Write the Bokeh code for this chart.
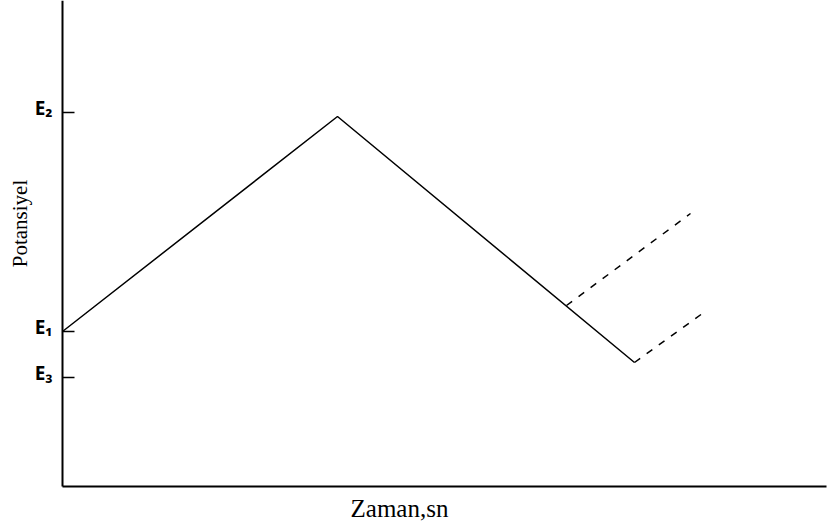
import math
from bokeh.plotting import figure
from bokeh.models import Range1d, FixedTicker, LinearAxis
from bokeh.core.properties import value
from bokeh.embed import file_html
from bokeh.resources import INLINE

# Triangular potential sweep (time vs potential, arbitrary units)
sweep_t = [0, 275, 572]
sweep_e = [155, 370, 124]

# Reversal branches drawn dashed
early_rev_t = [504, 628]
early_rev_e = [181, 273]
late_rev_t = [572, 644]
late_rev_e = [124, 176]

# Potential levels marked on the vertical axis
level_values = [374, 155, 109]
level_labels = ["E\u2082", "E\u2081", "E\u2083"]

# The frame fills the page; axes sit at the data origin
p = figure(width=830, height=524, output_backend="svg", toolbar_location=None,
           x_range=Range1d(-62, 768), y_range=Range1d(-38, 486),
           x_axis_type=None, y_axis_type=None, min_border=0)
p.outline_line_color = None
p.background_fill_color = "white"
p.border_fill_color = "white"

p.line(sweep_t, sweep_e, line_color="black", line_width=1.5)
p.line(early_rev_t, early_rev_e, line_color="black", line_width=1.5, line_dash="7 8")
p.line(late_rev_t, late_rev_e, line_color="black", line_width=1.5, line_dash="7 8")

# Axis lines through the origin, without automatic ticks or labels
for axis, loc, bounds in ((LinearAxis(), "left", (0, 486)),
                          (LinearAxis(), "below", (0, 764))):
    axis.fixed_location = 0
    axis.bounds = bounds
    axis.ticker = FixedTicker(ticks=[])
    axis.minor_tick_line_color = None
    axis.major_tick_line_color = None
    axis.axis_line_width = 2
    axis.axis_line_color = "black"
    p.add_layout(axis, loc)

# Short inward ticks at the marked potential levels
p.segment(x0=[0] * len(level_values), y0=level_values,
          x1=[12] * len(level_values), y1=level_values,
          line_color="black", line_width=1.5)

# Level names, set slightly above their ticks
p.text(x=[-10] * len(level_values), y=[v + 5 for v in level_values],
       text=level_labels, text_font=value("Noto Sans"), text_font_style="bold",
       text_font_size="19px", text_align="right", text_baseline="middle",
       text_color="black")

# Axis titles
p.text(x=[-43], y=[263], text=["Potansiyel"], angle=math.pi / 2,
       text_font=value("Liberation Serif"), text_font_size="21px",
       text_align="center", text_baseline="middle", text_color="black")
p.text(x=[337], y=[-22], text=["Zaman,sn"],
       text_font=value("Liberation Serif"), text_font_size="25px",
       text_align="center", text_baseline="middle", text_color="black")

open("out.html", "w").write(file_html(p, INLINE))
